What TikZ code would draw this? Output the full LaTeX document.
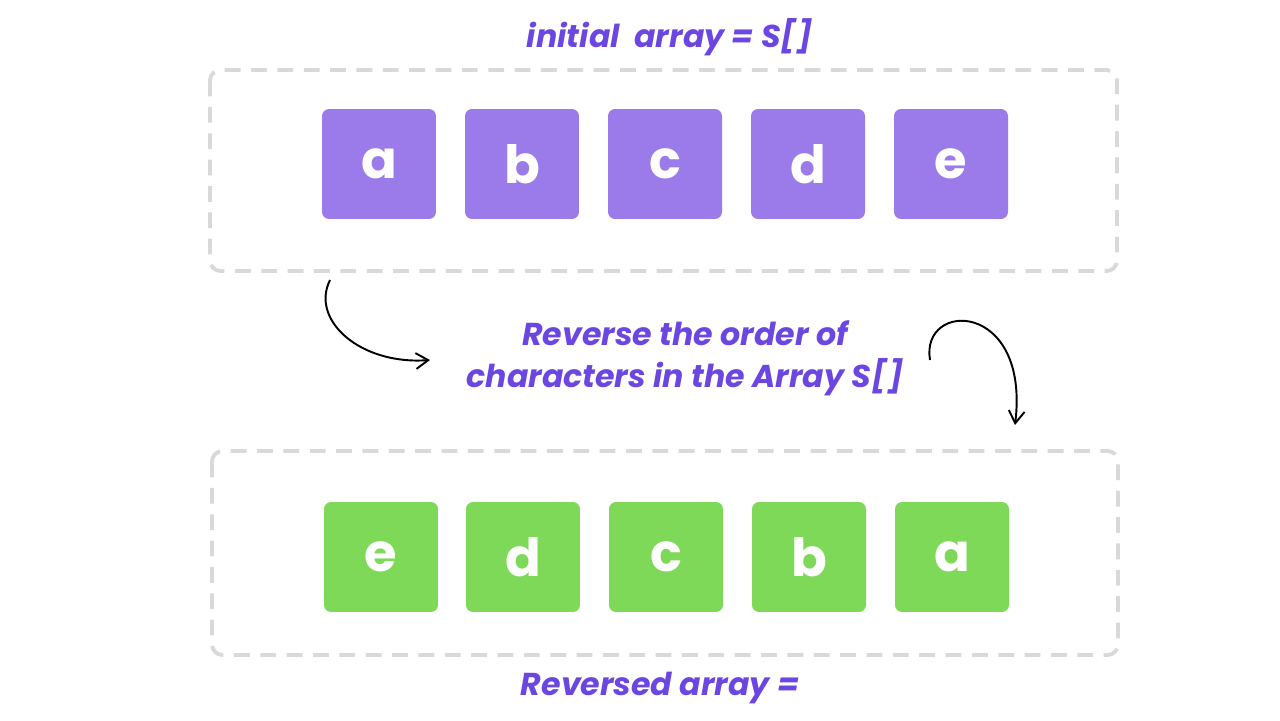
\documentclass[tikz,border=0pt]{standalone}
\usepackage{fontspec}
\setmainfont{Poppins}
\usetikzlibrary{arrows.meta}
\definecolor{cellpurple}{HTML}{9B7BEA}
\definecolor{cellgreen}{HTML}{7DD957}
\definecolor{frame}{HTML}{D9D9D9}
\definecolor{ink}{HTML}{6B46E0}
\begin{document}
\begin{tikzpicture}[x=0.02cm, y=-0.02cm, thick]
		\useasboundingbox (0,0) rectangle (1280,720);
		\tikzset{
			cell/.style={rounded corners=4pt, minimum width=2.28cm, minimum height=2.2cm,
				text=white, font=\fontsize{30}{30}\selectfont\bfseries},
			frame/.style={draw=frame, line width=2.2pt, dash pattern=on 9pt off 6pt, rounded corners=6pt},
			caption/.style={text=ink, font=\fontsize{18}{24}\selectfont\bfseries\itshape, align=center},
			sketch/.style={line width=1.1pt, -{Straight Barb[length=7pt,width=9pt]}}
		}
		% frames
		\draw[frame] (210,70) rectangle (1117,271);
		\draw[frame] (212,451) rectangle (1118,655);
		% initial array
		\begin{scope}[every node/.style={cell, fill=cellpurple}]
			\node (sa) at (379,164) {a};
			\node (sb) at (522,164) {b};
			\node (sc) at (665,164) {c};
			\node (sd) at (808,164) {d};
			\node (se) at (951,164) {e};
		\end{scope}
		% reversed array
		\begin{scope}[every node/.style={cell, fill=cellgreen}]
			\node (re) at (381,557) {e};
			\node (rd) at (523,557) {d};
			\node (rc) at (666,557) {c};
			\node (rb) at (809,557) {b};
			\node (ra) at (952,557) {a};
		\end{scope}
		% captions
		\node[caption] (title) at (670,37) {initial\ \ array = S[]};
		\node[caption] (step) at (685,358) {Reverse the order of\\characters in the Array S[]};
		\node[caption] (result) at (660,688) {Reversed array =};
		% hand drawn arrows
		\coordinate (l0) at (330,280);
		\coordinate (l1) at (430,360);
		\coordinate (r0) at (930,360);
		\coordinate (r1) at (1015,425);
		\draw[sketch] (l0) .. controls (310,320) and (360,365) .. (l1);
		\draw[sketch] (r0) .. controls (920,300) and (1030,300) .. (r1);
	\end{tikzpicture}
\end{document}
